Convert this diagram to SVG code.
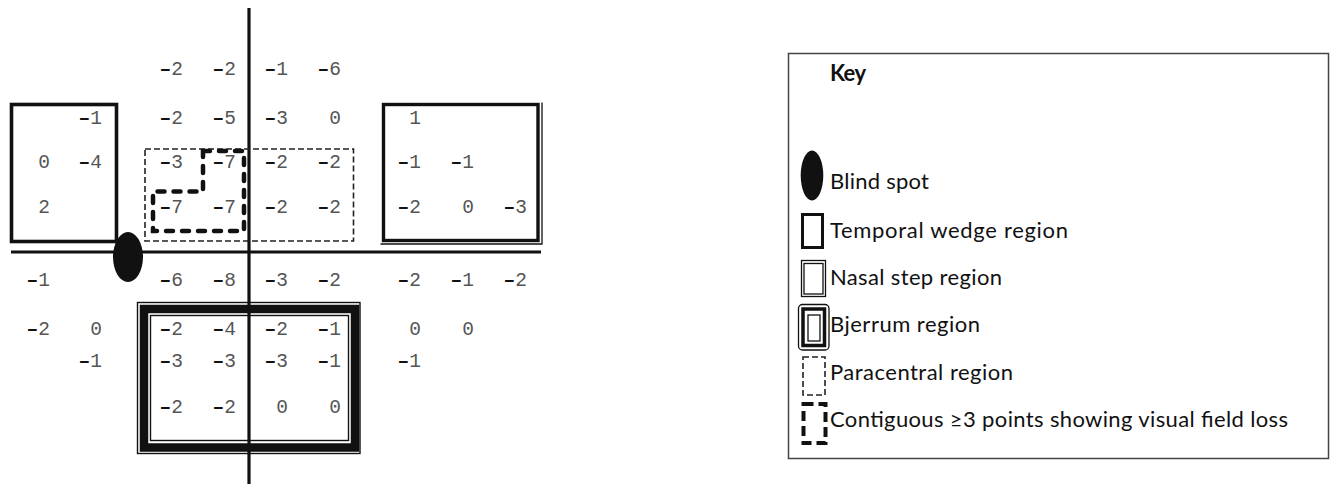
<svg xmlns="http://www.w3.org/2000/svg" width="1330" height="485" viewBox="0 0 1330 485">
  <style>
    .num { font-family: "Liberation Mono", "Courier New", monospace; font-size: 19.5px; fill: #555; text-anchor: end; }
    .neg { font-weight: bold; fill: #111; }
    .key { font-family: Lato, "Open Sans", sans-serif; font-size: 22px; fill: #111; }
    .axis { stroke: #111; stroke-width: 3.2; fill: none; }
    .solid { stroke: #111; fill: none; }
    .para { stroke: #222; stroke-width: 1.6; fill: none; stroke-dasharray: 6 3; }
    .contig { stroke: #111; stroke-width: 4.5; fill: none; stroke-dasharray: 7 9; stroke-linecap: round; }
  </style>

  <rect width="1330" height="485" fill="#fff"/>

  <!-- meridians -->
  <g id="axes">
    <line class="axis" x1="249" y1="8" x2="249" y2="484"/>
    <line class="axis" x1="11" y1="252" x2="541" y2="252"/>
  </g>

  <!-- temporal wedge region -->
  <g id="temporal-wedge">
    <rect class="solid" stroke-width="3.6" x="11.5" y="104.5" width="105" height="137"/>
  </g>

  <!-- blind spot -->
  <g id="blind-spot">
    <ellipse cx="128" cy="257" rx="15" ry="25" fill="#111"/>
  </g>

  <!-- paracentral region -->
  <g id="paracentral">
    <rect class="para" x="145" y="149" width="208.5" height="92"/>
  </g>

  <!-- contiguous points showing loss -->
  <g id="contiguous">
    <path class="contig" d="M203 151 H244 V231 H153 V191.5 H203 Z"/>
  </g>

  <!-- nasal step region -->
  <g id="nasal-step">
    <rect class="solid" stroke-width="3.4" x="383.5" y="104.5" width="154.5" height="136"/>
    <polyline class="solid" stroke-width="1.3" points="542,102.5 542,244 380.5,244"/>
  </g>

  <!-- Bjerrum region -->
  <g id="bjerrum">
    <rect class="solid" stroke-width="1.4" x="137.5" y="302.5" width="222.5" height="151"/>
    <rect class="solid" stroke-width="8.5" x="144" y="309" width="211" height="138.5"/>
    <rect class="solid" stroke-width="1.4" x="150.5" y="315.5" width="198" height="125"/>
  </g>

  <!-- threshold deviation values -->
  <g id="values" class="num">
    <!-- row 1 -->
    <text x="183" y="75"><tspan class="neg">–</tspan>2</text>
    <text x="236" y="75"><tspan class="neg">–</tspan>2</text>
    <text x="288" y="75"><tspan class="neg">–</tspan>1</text>
    <text x="341" y="75"><tspan class="neg">–</tspan>6</text>
    <!-- row 2 -->
    <text x="102" y="124"><tspan class="neg">–</tspan>1</text>
    <text x="183" y="124"><tspan class="neg">–</tspan>2</text>
    <text x="236" y="124"><tspan class="neg">–</tspan>5</text>
    <text x="288" y="124"><tspan class="neg">–</tspan>3</text>
    <text x="341" y="124">0</text>
    <text x="421" y="124">1</text>
    <!-- row 3 -->
    <text x="50" y="168">0</text>
    <text x="102" y="168"><tspan class="neg">–</tspan>4</text>
    <text x="183" y="168"><tspan class="neg">–</tspan>3</text>
    <text x="236" y="168"><tspan class="neg">–</tspan>7</text>
    <text x="288" y="168"><tspan class="neg">–</tspan>2</text>
    <text x="341" y="168"><tspan class="neg">–</tspan>2</text>
    <text x="421" y="168"><tspan class="neg">–</tspan>1</text>
    <text x="474" y="168"><tspan class="neg">–</tspan>1</text>
    <!-- row 4 -->
    <text x="50" y="213">2</text>
    <text x="183" y="213"><tspan class="neg">–</tspan>7</text>
    <text x="236" y="213"><tspan class="neg">–</tspan>7</text>
    <text x="288" y="213"><tspan class="neg">–</tspan>2</text>
    <text x="341" y="213"><tspan class="neg">–</tspan>2</text>
    <text x="421" y="213"><tspan class="neg">–</tspan>2</text>
    <text x="474" y="213">0</text>
    <text x="527" y="213"><tspan class="neg">–</tspan>3</text>
    <!-- row 5 -->
    <text x="50" y="286"><tspan class="neg">–</tspan>1</text>
    <text x="183" y="286"><tspan class="neg">–</tspan>6</text>
    <text x="236" y="286"><tspan class="neg">–</tspan>8</text>
    <text x="288" y="286"><tspan class="neg">–</tspan>3</text>
    <text x="341" y="286"><tspan class="neg">–</tspan>2</text>
    <text x="421" y="286"><tspan class="neg">–</tspan>2</text>
    <text x="474" y="286"><tspan class="neg">–</tspan>1</text>
    <text x="527" y="286"><tspan class="neg">–</tspan>2</text>
    <!-- row 6 -->
    <text x="50" y="335"><tspan class="neg">–</tspan>2</text>
    <text x="102" y="335">0</text>
    <text x="183" y="335"><tspan class="neg">–</tspan>2</text>
    <text x="236" y="335"><tspan class="neg">–</tspan>4</text>
    <text x="288" y="335"><tspan class="neg">–</tspan>2</text>
    <text x="341" y="335"><tspan class="neg">–</tspan>1</text>
    <text x="421" y="335">0</text>
    <text x="474" y="335">0</text>
    <!-- row 7 -->
    <text x="102" y="367"><tspan class="neg">–</tspan>1</text>
    <text x="183" y="367"><tspan class="neg">–</tspan>3</text>
    <text x="236" y="367"><tspan class="neg">–</tspan>3</text>
    <text x="288" y="367"><tspan class="neg">–</tspan>3</text>
    <text x="341" y="367"><tspan class="neg">–</tspan>1</text>
    <text x="421" y="367"><tspan class="neg">–</tspan>1</text>
    <!-- row 8 -->
    <text x="183" y="413"><tspan class="neg">–</tspan>2</text>
    <text x="236" y="413"><tspan class="neg">–</tspan>2</text>
    <text x="288" y="413">0</text>
    <text x="341" y="413">0</text>
  </g>

  <!-- key -->
  <g id="key">
    <rect x="788.5" y="53.5" width="540" height="405" fill="none" stroke="#444" stroke-width="1.5"/>
    <text class="key" x="830" y="81" font-weight="bold" textLength="36">Key</text>

    <ellipse cx="812" cy="175.5" rx="11.3" ry="25" fill="#111"/>
    <text class="key" x="830" y="189" textLength="99">Blind spot</text>

    <rect class="solid" stroke-width="3" x="802.5" y="214.5" width="20" height="33"/>
    <text class="key" x="830" y="238" textLength="238">Temporal wedge region</text>

    <rect class="solid" stroke-width="1.3" x="801.5" y="260.5" width="24" height="36"/>
    <rect class="solid" stroke-width="1.3" x="804" y="263.5" width="19" height="30.5"/>
    <text class="key" x="830" y="285" textLength="172">Nasal step region</text>

    <rect class="solid" stroke-width="1.3" x="798.5" y="304.5" width="30.5" height="45.5" rx="4"/>
    <rect class="solid" stroke-width="3.5" x="803" y="309" width="21.5" height="36.5"/>
    <rect class="solid" stroke-width="1.3" x="808" y="315" width="12" height="26"/>
    <text class="key" x="830" y="332" textLength="150">Bjerrum region</text>

    <rect class="para" x="803" y="357" width="22" height="38" stroke-dasharray="6 5"/>
    <text class="key" x="830" y="380" textLength="183">Paracentral region</text>

    <rect x="803.5" y="404" width="22" height="39" fill="none" stroke="#111" stroke-width="4" stroke-dasharray="10 5"/>
    <text class="key" x="830" y="427" textLength="458">Contiguous ≥3 points showing visual field loss</text>
  </g>
</svg>
